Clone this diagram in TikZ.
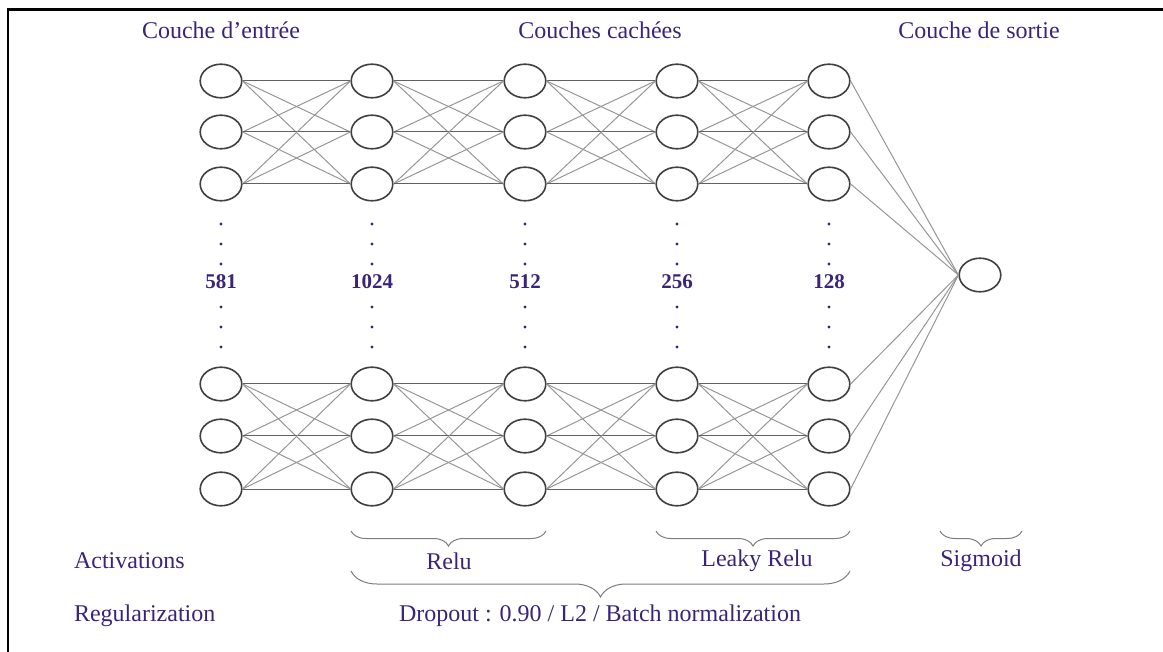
\documentclass[tikz,border=0pt]{standalone}
\usepackage{fontspec}
\setmainfont{Liberation Serif}
\usetikzlibrary{shapes.geometric,decorations.pathreplacing}
\definecolor{layerink}{RGB}{58,36,122}
\definecolor{cellgrey}{RGB}{64,64,64}
\definecolor{linkgrey}{RGB}{150,150,150}
\definecolor{bracegrey}{RGB}{125,125,125}
\tikzset{
    % neuron drawn as a flat ellipse
    neuron/.style={
        ellipse, draw=cellgrey, line width=0.8pt,
        minimum width=20.8pt, minimum height=16.8pt, inner sep=0pt
    },
    % weights between two layers
    link/.style={linkgrey, line width=0.5pt},
    straightlink/.style={black!62, line width=0.5pt},
    % text styles
    layertitle/.style={text=layerink, font=\fontsize{12}{14}\selectfont},
    sizelabel/.style={text=layerink, font=\fontsize{10.5}{12}\selectfont\bfseries},
    infolabel/.style={text=layerink, font=\fontsize{12}{14}\selectfont},
    % curly braces under the layers
    smallbrace/.style={draw=bracegrey, line width=0.5pt, decorate,
        decoration={brace, mirror, amplitude=7.5pt}},
    bigbrace/.style={smallbrace, decoration={brace, mirror, amplitude=13pt}},
}

\begin{document}
\begin{tikzpicture}[x=0.5pt,y=-0.5pt]
  \useasboundingbox (0,0) rectangle (1163,652);
  % frame (top and left edges)
  \draw[line width=1.3pt] (8,652) -- (8,9.5) -- (1163,9.5);

  % --- titles ---
  \node[layertitle] (tin)  at (221,30) {Couche d’entrée};
  \node[layertitle] (thid) at (600,30) {Couches cachées};
  \node[layertitle] (tout) at (979,30) {Couche de sortie};

  % --- neurons: 5 layers, 3 on top and 3 at the bottom ---
  \foreach \x [count=\l] in {221,372,525,677,829}{
    \foreach \y [count=\r] in {81,132,184,384,436,489}
      \node[neuron] (N\l-\r) at (\x,\y) {};
  }
  \node[neuron] (out) at (980,275) {};

  % dots and layer sizes
  \foreach \x/\n [count=\l] in {221/581,372/1024,525/512,677/256,829/128}{
    \foreach \y in {224,244,264,307,327,347}
      \fill[layerink] (\x,\y) circle (0.85pt);
    \node[sizelabel] (size\l) at (\x,282) {\n};
  }

  % --- fully connected layers ---
  \foreach \l in {1,...,4}{
    \pgfmathtruncatemacro\m{\l+1}
    \foreach \g in {0,3}
      \foreach \a in {1,2,3}
        \foreach \b in {1,2,3}{
          \pgfmathtruncatemacro\i{\a+\g}
          \pgfmathtruncatemacro\j{\b+\g}
          \ifnum\a=\b
            \draw[straightlink] (N\l-\i.east) -- (N\m-\j.west);
          \else
            \draw[link] (N\l-\i.east) -- (N\m-\j.west);
          \fi
        }
  }
  % last hidden layer to the output
  \foreach \r in {1,...,6}
    \draw[link] (N5-\r.east) -- (out.west);

  % --- braces and labels ---
  \coordinate (b1a) at (351,531);  \coordinate (b1b) at (546,531);
  \coordinate (b2a) at (656,531);  \coordinate (b2b) at (850,531);
  \coordinate (b3a) at (940,531);  \coordinate (b3b) at (1022,531);
  \coordinate (b4a) at (351,571);  \coordinate (b4b) at (850,571);
  \draw[smallbrace] (b1a) -- (b1b);
  \draw[smallbrace] (b2a) -- (b2b);
  \draw[smallbrace] (b3a) -- (b3b);
  \draw[bigbrace]   (b4a) -- (b4b);

  \node[infolabel,anchor=west] (act) at (67,561) {Activations};
  \node[infolabel] (relu)  at (449,561) {Relu};
  \node[infolabel] (leaky) at (757,561) {Leaky Relu};
  \node[infolabel] (sigm)  at (981,561) {Sigmoid};

  \node[infolabel,anchor=west] (reg) at (67,616) {Regularization};
  \node[infolabel] (drop) at (600,616) {Dropout : 0.90 / L2 / Batch normalization};
\end{tikzpicture}
\end{document}
